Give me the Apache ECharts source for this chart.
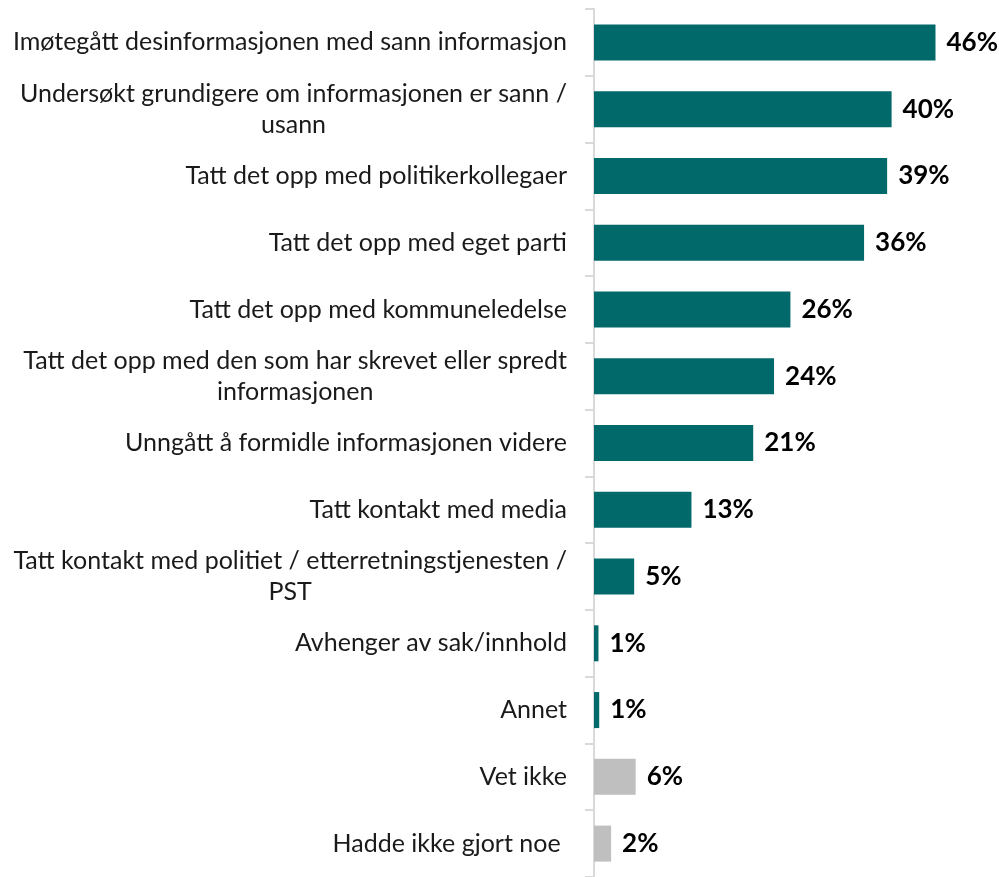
<!DOCTYPE html>
<html>
<head>
<meta charset="utf-8">
<script src="https://cdn.jsdelivr.net/npm/echarts@6/dist/echarts.min.js"></script>
<style>
html,body{margin:0;padding:0;background:#fff;}
#chart{width:999px;height:877px;}
</style>
</head>
<body>
<div id="chart"></div>
<script>
var categories = [
  "Imøtegått desinformasjonen med sann informasjon",
  "Undersøkt grundigere om informasjonen er sann /\nusann",
  "Tatt det opp med politikerkollegaer",
  "Tatt det opp med eget parti",
  "Tatt det opp med kommuneledelse",
  "Tatt det opp med den som har skrevet eller spredt\ninformasjonen",
  "Unngått å formidle informasjonen videre",
  "Tatt kontakt med media",
  "Tatt kontakt med politiet / etterretningstjenesten /\nPST",
  "Avhenger av sak/innhold",
  "Annet",
  "Vet ikke",
  "Hadde ikke gjort noe "
];
var values = [45.9, 40.0, 39.4, 36.3, 26.4, 24.2, 21.4, 13.1, 5.4, 0.6, 0.7, 5.6, 2.3];
var valueLabels = ["46%", "40%", "39%", "36%", "26%", "24%", "21%", "13%", "5%", "1%", "1%", "6%", "2%"];
var grayCategories = ["Vet ikke", "Hadde ikke gjort noe "];

var TEAL = "#02696B";
var GRAY = "#BFBFC0";
var FONT = "Lato";

var chart = echarts.init(document.getElementById('chart'), null, {renderer: 'canvas'});

var barData = values.map(function (v, i) {
  return {
    value: v,
    itemStyle: {color: grayCategories.indexOf(categories[i]) >= 0 ? GRAY : TEAL}
  };
});

var option = {
  animation: false,
  backgroundColor: '#ffffff',
  grid: {left: 594, top: 9, width: 372, height: 879, containLabel: false},
  xAxis: {
    type: 'value',
    min: 0,
    max: 50,
    show: false
  },
  yAxis: {
    type: 'category',
    inverse: true,
    data: categories,
    axisLine: {show: true, lineStyle: {color: '#D9D9D9', width: 2}},
    axisTick: {show: true, length: 9, lineStyle: {color: '#D9D9D9', width: 2}},
    axisLabel: {
      margin: 27,
      fontFamily: FONT,
      fontSize: 25,
      color: '#1a1a1a',
      lineHeight: 31,
      formatter: function (val) {
        return val.split('\n').map(function (s) { return '{c|' + s + '}'; }).join('\n');
      },
      rich: {
        c: {align: 'center', fontFamily: FONT, fontSize: 25, color: '#1a1a1a', lineHeight: 31}
      }
    }
  },
  series: [{
    type: 'bar',
    data: barData,
    barWidth: 36,
    label: {
      show: true,
      position: 'right',
      distance: 11,
      fontFamily: FONT,
      fontWeight: 'bold',
      fontSize: 26,
      color: '#000000',
      formatter: function (p) { return valueLabels[p.dataIndex]; }
    }
  }]
};
chart.setOption(option);
</script>
</body>
</html>
